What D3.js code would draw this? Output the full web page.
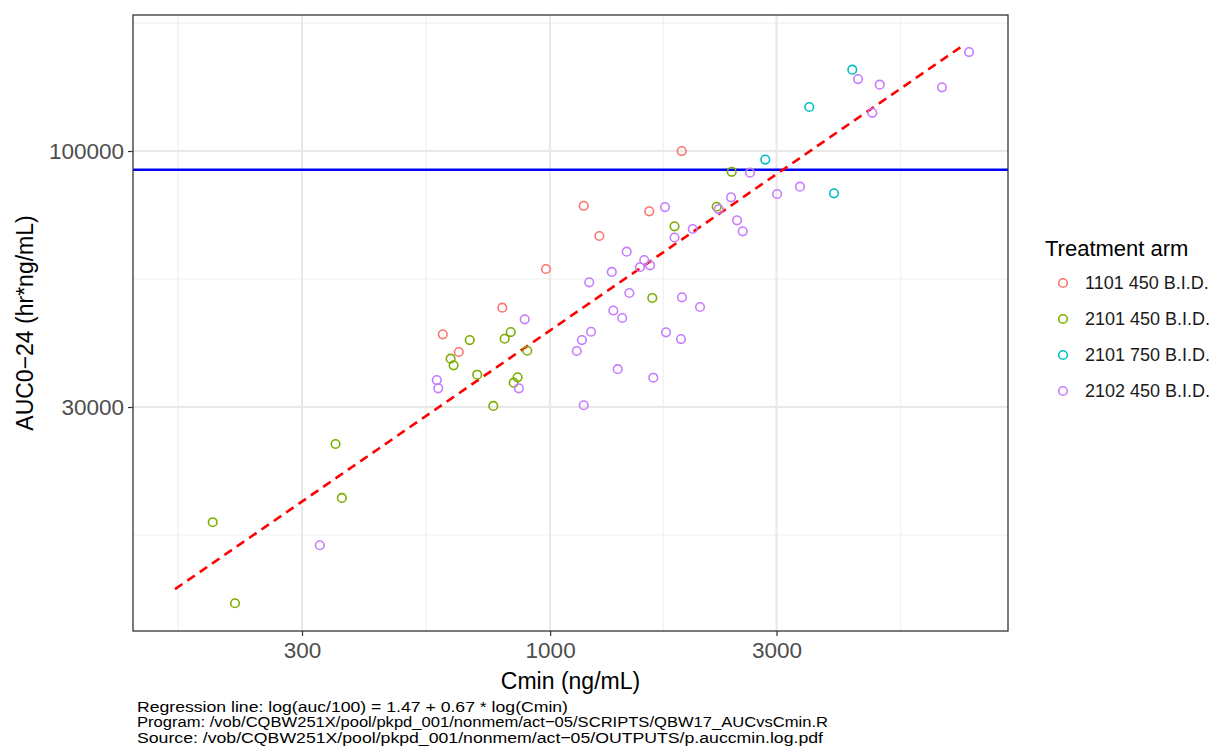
<!DOCTYPE html>
<html lang="en">
<head>
<meta charset="utf-8">
<title>AUC vs Cmin</title>
<script src="https://cdn.jsdelivr.net/npm/d3@7"></script>
<style>
    body { margin: 0; background: #fff; }
    svg text { font-family: "Liberation Sans", Arial, sans-serif; }
    .axis path { display: none; }
    .axis line { stroke: #333; stroke-width: 1.2; }
    .axis text { fill: #4d4d4d; font-size: 22.5px; }
</style>
</head>
<body>
<script>
// ---- data ----
var arms = ["1101 450 B.I.D.", "2101 450 B.I.D.", "2101 750 B.I.D.", "2102 450 B.I.D."];
var armColors = ["#F8766D", "#7CAE00", "#00BFC4", "#C77CFF"];

// [Cmin, AUC0-24] per arm
var arm1101_450 = [[1894, 100000], [1177, 77300], [1618, 75300], [1270, 67060], [980, 57410],
    [793, 47860], [594, 42230], [642, 38860]];
var arm2101_450 = [[2414, 90690], [2244, 76940], [1829, 70190], [1642, 50100], [677, 41110],
    [826, 42680], [802, 41360], [895, 39090], [617, 37650], [626, 36500], [702, 34920],
    [854, 34500], [838, 33640], [759, 30150], [353, 25210], [364, 19560], [194.5, 17450], [216.7, 11920]];
var arm2101_750 = [[4334, 146600], [3517, 123000], [2841, 96070], [3965, 81970]];
var arm2102_450 = [[7636, 159300], [4456, 140300], [4950, 136600], [6696, 134900], [4775, 119700],
    [2638, 90300], [3362, 84550], [3008, 81700], [2406, 80440], [1746, 76840], [2266, 76120],
    [2477, 72190], [1998, 69300], [2546, 68550], [1829, 66580], [1450, 62280], [1579, 59900],
    [1624, 58420], [1546, 57890], [1349, 56620], [1209, 53930], [1469, 51290], [1896, 50260],
    [2070, 48020], [1359, 47230], [1419, 45600], [884, 45310], [1220, 42740], [1755, 42620],
    [1167, 41110], [1887, 41300], [1138, 39040], [1388, 35840], [1650, 34430], [577, 34060],
    [581, 32760], [859, 32760], [1177, 30250], [327, 15660]];
var armData = [arm1101_450, arm2101_450, arm2101_750, arm2102_450];

var regLine = [[162, 12740], [7406, 164100]];   // dashed regression line end points
var refAUC = 91600;                               // horizontal reference line

var xTicks = [300, 1000, 3000];
var yTicks = [30000, 100000];
var xLimits = [132.1, 9226];
var yLimits = [10462, 189600];

var footer = [
    "Regression line: log(auc/100) = 1.47 + 0.67 * log(Cmin)",
    "Program: /vob/CQBW251X/pool/pkpd_001/nonmem/act\u221205/SCRIPTS/QBW17_AUCvsCmin.R",
    "Source: /vob/CQBW251X/pool/pkpd_001/nonmem/act\u221205/OUTPUTS/p.auccmin.log.pdf"
];
var footerWidths = [431, 691, 686];  // rendered widths in the reference

// ---- layout ----
var w = 1215, h = 752;
var pL = 133, pR = 1008, pT = 15, pB = 631;

var svg = d3.select("body").append("svg").attr("width", w).attr("height", h);
svg.append("rect").attr("width", w).attr("height", h).attr("fill", "#fff");

var x = d3.scaleLog().domain(xLimits).range([pL, pR]);
var y = d3.scaleLog().domain(yLimits).range([pB, pT]);

// minor breaks the ggplot way: midpoints between (extended) majors in log space
function minorBreaks(ticks, limits) {
    var b = ticks.map(Math.log10);
    var bd = b[1] - b[0];
    var lo = Math.log10(limits[0]), hi = Math.log10(limits[1]);
    if (lo < b[0]) b.unshift(b[0] - bd);
    if (hi > b[b.length - 1]) b.push(b[b.length - 1] + bd);
    var out = [];
    for (var i = 0; i < b.length - 1; i++) {
        var m = (b[i] + b[i + 1]) / 2;
        if (m > lo && m < hi) out.push(Math.pow(10, m));
    }
    return out;
}

var grid = svg.append("g");
minorBreaks(xTicks, xLimits).forEach(function (v) {
    grid.append("line").attr("x1", x(v)).attr("x2", x(v)).attr("y1", pT).attr("y2", pB)
        .attr("stroke", "#f0f0f0").attr("stroke-width", 1.2);
});
minorBreaks(yTicks, yLimits).forEach(function (v) {
    grid.append("line").attr("y1", y(v)).attr("y2", y(v)).attr("x1", pL).attr("x2", pR)
        .attr("stroke", "#f0f0f0").attr("stroke-width", 1.2);
});
xTicks.forEach(function (v) {
    grid.append("line").attr("x1", x(v)).attr("x2", x(v)).attr("y1", pT).attr("y2", pB)
        .attr("stroke", "#e8e8e8").attr("stroke-width", 2);
});
yTicks.forEach(function (v) {
    grid.append("line").attr("y1", y(v)).attr("y2", y(v)).attr("x1", pL).attr("x2", pR)
        .attr("stroke", "#e8e8e8").attr("stroke-width", 2);
});

// reference line
svg.append("line")
    .attr("x1", pL).attr("x2", pR)
    .attr("y1", y(refAUC)).attr("y2", y(refAUC))
    .attr("stroke", "#0000ee").attr("stroke-width", 2.6);

// regression line
svg.append("path")
    .datum(regLine)
    .attr("d", d3.line().x(function (d) { return x(d[0]); }).y(function (d) { return y(d[1]); }))
    .attr("fill", "none")
    .attr("stroke", "#ff0000")
    .attr("stroke-width", 2.6)
    .attr("stroke-dasharray", "9,6");

// points
armData.forEach(function (pts, i) {
    svg.append("g").selectAll("circle")
        .data(pts)
        .enter()
        .append("circle")
        .attr("cx", function (d) { return x(d[0]); })
        .attr("cy", function (d) { return y(d[1]); })
        .attr("r", 4.3)
        .attr("fill", "none")
        .attr("stroke", armColors[i])
        .attr("stroke-width", 1.6);
});

// panel border
svg.append("rect")
    .attr("x", pL).attr("y", pT).attr("width", pR - pL).attr("height", pB - pT)
    .attr("fill", "none").attr("stroke", "#333").attr("stroke-width", 1.3);

// axes
svg.append("g")
    .attr("class", "x axis")
    .attr("transform", "translate(0," + pB + ")")
    .call(d3.axisBottom(x).tickValues(xTicks).tickFormat(d3.format("d")).tickSize(5).tickPadding(6));

svg.append("g")
    .attr("class", "y axis")
    .attr("transform", "translate(" + pL + ",0)")
    .call(d3.axisLeft(y).tickValues(yTicks).tickFormat(d3.format("d")).tickSize(5).tickPadding(4));

// axis titles
svg.append("text")
    .attr("x", (pL + pR) / 2).attr("y", 689)
    .attr("text-anchor", "middle")
    .attr("font-size", 23)
    .text("Cmin (ng/mL)");

svg.append("text")
    .attr("transform", "translate(33," + ((pT + pB) / 2) + ") rotate(-90)")
    .attr("text-anchor", "middle")
    .attr("font-size", 23)
    .text("AUC0\u221224 (hr*ng/mL)");

// legend
var legend = svg.append("g").attr("transform", "translate(1045,0)");
legend.append("text").attr("x", 0).attr("y", 256).attr("font-size", 22).text("Treatment arm");
arms.forEach(function (a, i) {
    var cy = 283 + i * 36;
    legend.append("circle").attr("cx", 18).attr("cy", cy).attr("r", 4.3)
        .attr("fill", "none").attr("stroke", armColors[i]).attr("stroke-width", 1.6);
    legend.append("text").attr("x", 40).attr("y", cy).attr("dy", "0.35em")
        .attr("font-size", 18).attr("fill", "#1a1a1a").text(a);
});

// footer notes
footer.forEach(function (t, i) {
    svg.append("text")
        .attr("x", 137).attr("y", 712 + i * 15.3)
        .attr("font-size", 15.5)
        .attr("textLength", footerWidths[i])
        .attr("lengthAdjust", "spacingAndGlyphs")
        .attr("fill", "#000")
        .text(t);
});
</script>
</body>
</html>
